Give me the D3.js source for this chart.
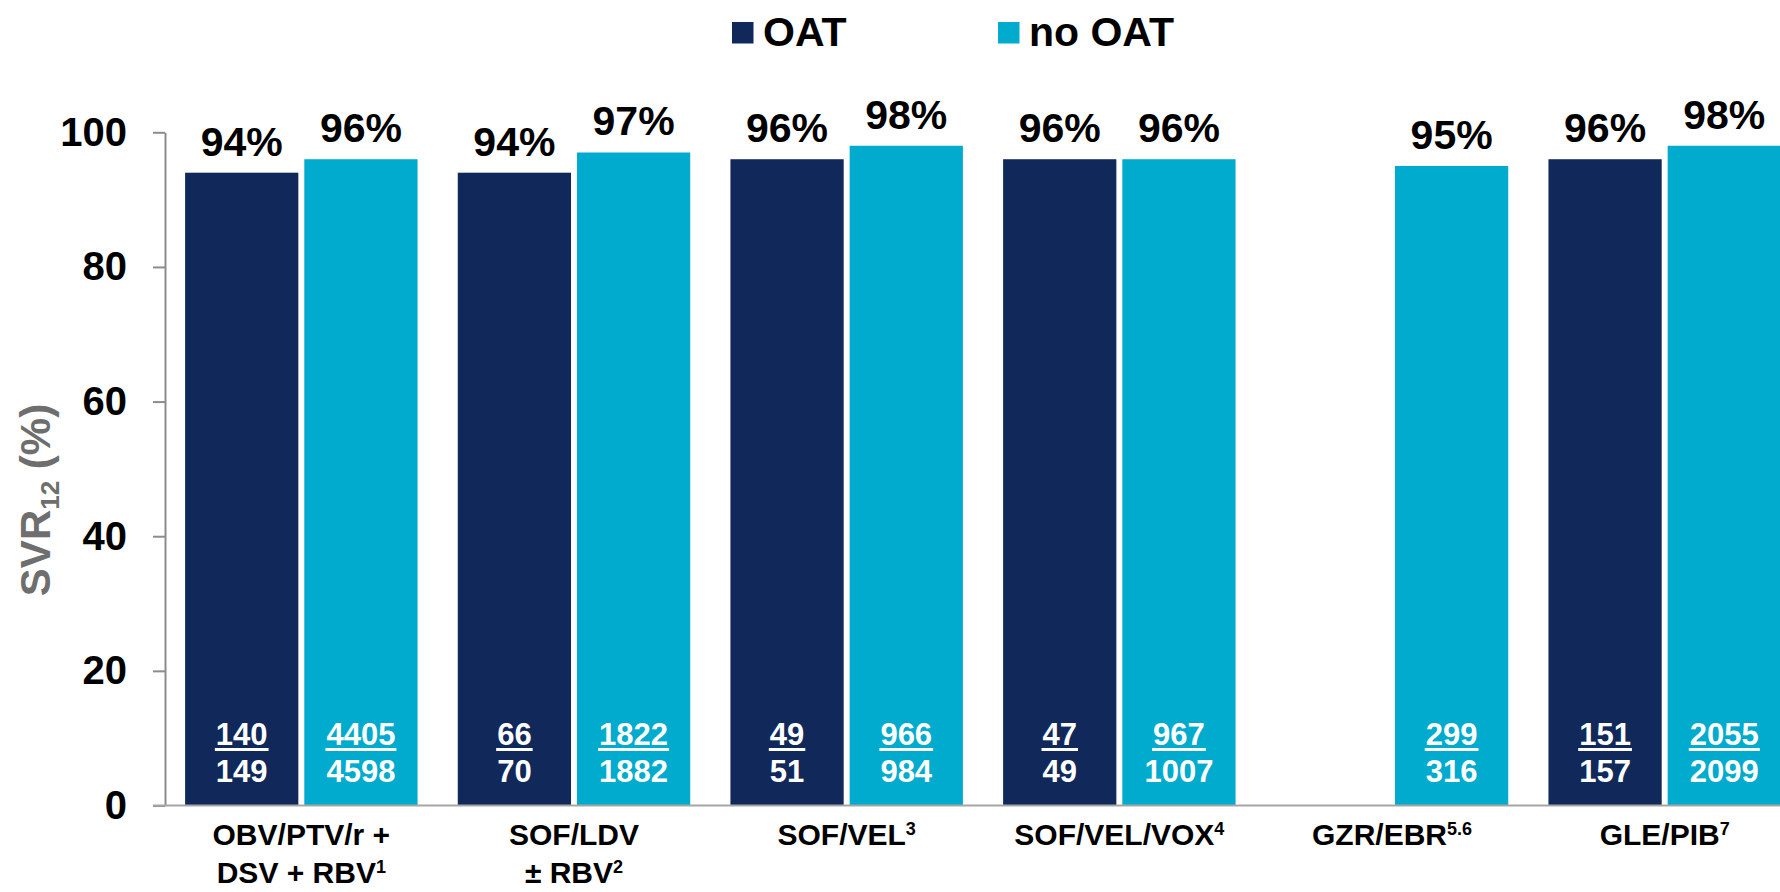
<!DOCTYPE html>
<html lang="en">
<head>
    <meta charset="utf-8" />
    <title>SVR12 by regimen, OAT vs no OAT</title>
    <script src="https://d3js.org/d3.v7.min.js"></script>
    <style>
        body { margin: 0; background: #fff; }
        svg { display: block; font-family: "Liberation Sans", Arial, sans-serif; font-weight: bold; }
        .axis path, .axis line { stroke: #8c8c8c; stroke-width: 2; }
        .axis text { fill: #000; font-size: 40px; font-weight: bold; font-family: "Liberation Sans", Arial, sans-serif; }
    </style>
</head>
<body>
    <script>

        // data
        const categories = ["OBV/PTV/r + DSV + RBV", "SOF/LDV ± RBV", "SOF/VEL", "SOF/VEL/VOX", "GZR/EBR", "GLE/PIB"];
        const seriesNames = ["OAT", "no OAT"];
        const oatValues = [94, 94, 96, 96, null, 96];
        const noOatValues = [96, 97, 98, 96, 95, 98];
        const oatCured = [140, 66, 49, 47, null, 151];
        const oatTotal = [149, 70, 51, 49, null, 157];
        const noOatCured = [4405, 1822, 966, 967, 299, 2055];
        const noOatTotal = [4598, 1882, 984, 1007, 316, 2099];
        const yTicks = [0, 20, 40, 60, 80, 100];
        // category label lines: [text, superscript]
        const categoryLines = [
            [["OBV/PTV/r +", ""], ["DSV + RBV", "1"]],
            [["SOF/LDV", ""], ["± RBV", "2"]],
            [["SOF/VEL", "3"]],
            [["SOF/VEL/VOX", "4"]],
            [["GZR/EBR", "5.6"]],
            [["GLE/PIB", "7"]]
        ];

        const colors = { "OAT": "#10285a", "no OAT": "#00abcd" };

        const width = 1780, height = 892;

        const svg = d3.select("body").append("svg")
            .attr("width", width)
            .attr("height", height);

        // scales
        const x0 = d3.scaleBand()
            .domain(categories)
            .range([165, 1801])
            .paddingInner(0.1475)
            .paddingOuter(0.0737);

        const x1 = d3.scaleBand()
            .domain(seriesNames)
            .range([0, x0.bandwidth()])
            .paddingInner(0.05);

        const y = d3.scaleLinear()
            .domain([0, 100])
            .range([805.5, 132.3]);

        // build rows for the bars
        const rows = [];
        categories.forEach(function (c, i) {
            rows.push({ cat: c, series: "OAT", value: oatValues[i], n: oatCured[i], d: oatTotal[i] });
            rows.push({ cat: c, series: "no OAT", value: noOatValues[i], n: noOatCured[i], d: noOatTotal[i] });
        });
        const bars = rows.filter(function (r) { return r.value !== null; });

        function barX(r) { return x0(r.cat) + x1(r.series); }
        function barMid(r) { return barX(r) + x1.bandwidth() / 2; }

        // bars
        svg.append("g").selectAll("rect")
            .data(bars)
            .enter().append("rect")
            .attr("x", barX)
            .attr("y", function (r) { return y(r.value); })
            .attr("width", x1.bandwidth())
            .attr("height", function (r) { return y(0) - y(r.value); })
            .attr("fill", function (r) { return colors[r.series]; });

        // y axis
        const yAxis = d3.axisLeft(y)
            .tickValues(yTicks)
            .tickSize(12)
            .tickPadding(26)
            .tickSizeOuter(0);

        svg.append("g")
            .attr("class", "axis")
            .attr("transform", "translate(165,0)")
            .call(yAxis);

        // x axis baseline
        svg.append("line")
            .attr("x1", 153)
            .attr("x2", width)
            .attr("y1", y(0))
            .attr("y2", y(0))
            .attr("stroke", "#a6a6a6")
            .attr("stroke-width", 2);

        // percent labels on top of bars
        svg.append("g").selectAll("text")
            .data(bars)
            .enter().append("text")
            .attr("x", barMid)
            .attr("y", function (r) { return y(r.value) - 17; })
            .attr("text-anchor", "middle")
            .attr("font-size", 41)
            .attr("fill", "#000")
            .text(function (r) { return r.value + "%"; });

        // n / N fractions inside bars
        const frac = svg.append("g").selectAll("g")
            .data(bars)
            .enter().append("g")
            .attr("fill", "#fff");

        frac.append("text")
            .attr("class", "num")
            .attr("x", barMid)
            .attr("y", 745)
            .attr("text-anchor", "middle")
            .attr("font-size", 31)
            .text(function (r) { return r.n; });

        frac.append("text")
            .attr("x", barMid)
            .attr("y", 782)
            .attr("text-anchor", "middle")
            .attr("font-size", 31)
            .text(function (r) { return r.d; });

        frac.each(function (r) {
            const w = d3.select(this).select(".num").node().getComputedTextLength() + 2;
            d3.select(this).append("rect")
                .attr("x", barMid(r) - w / 2)
                .attr("y", 748)
                .attr("width", w)
                .attr("height", 3)
                .attr("fill", "#fff");
        });

        // category labels
        const catLabel = svg.append("g").selectAll("text")
            .data(categories)
            .enter().append("text")
            .attr("text-anchor", "middle")
            .attr("font-size", 30)
            .attr("fill", "#000");

        catLabel.each(function (c, i) {
            const t = d3.select(this);
            categoryLines[i].forEach(function (line, j) {
                const g = t.append("tspan")
                    .attr("x", x0(c) + x0.bandwidth() / 2)
                    .attr("y", 845 + j * 38)
                    .text(line[0]);
                if (line[1]) {
                    t.append("tspan")
                        .attr("font-size", 18)
                        .attr("dy", -10)
                        .text(line[1]);
                }
            });
        });

        // y axis title
        const yTitle = svg.append("text")
            .attr("transform", "translate(50,500) rotate(-90)")
            .attr("text-anchor", "middle")
            .attr("font-size", 42)
            .attr("fill", "#6e6e6e");
        yTitle.append("tspan").text("SVR");
        yTitle.append("tspan").attr("font-size", 26).attr("dy", 9).text("12");
        yTitle.append("tspan").attr("dy", -9).text(" (%)");

        // legend
        const legendX = [732, 998];
        const legend = svg.append("g").selectAll("g")
            .data(seriesNames)
            .enter().append("g")
            .attr("transform", function (d, i) { return "translate(" + legendX[i] + ",0)"; });

        legend.append("rect")
            .attr("x", 0)
            .attr("y", 22)
            .attr("width", 21.5)
            .attr("height", 21.5)
            .attr("fill", function (d) { return colors[d]; });

        legend.append("text")
            .attr("x", 31)
            .attr("y", 46)
            .attr("font-size", 41)
            .attr("fill", "#000")
            .text(function (d) { return d; });

    </script>
</body>
</html>
